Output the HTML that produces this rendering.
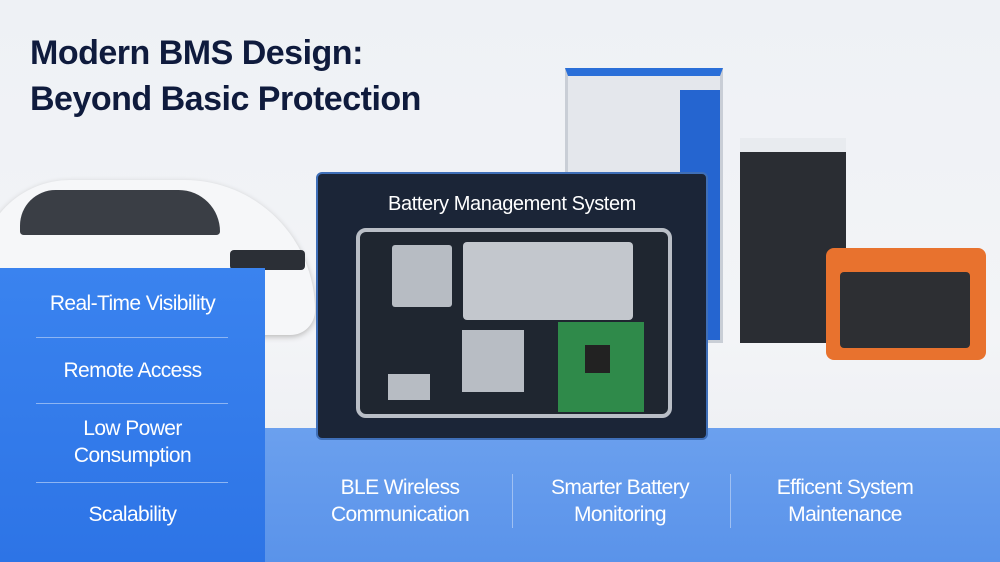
<!DOCTYPE html>
<html><head><style>
body{margin:0;width:1000px;height:562px;overflow:hidden;position:relative;font-family:"Liberation Sans",sans-serif;background:linear-gradient(#eef1f5,#f3f4f7 60%,#e9ecf0);}
div{position:absolute;box-sizing:border-box}
.t{color:#fff;text-align:center;font-size:21px;line-height:27px;letter-spacing:-0.6px}
</style></head><body>
<div style="left:30px;top:30px;font-size:34px;line-height:46px;font-weight:bold;color:#0f1b3d;letter-spacing:-0.5px">Modern BMS Design:<br>Beyond Basic Protection</div>
<!-- car -->
<div style="left:-20px;top:180px;width:335px;height:155px;background:#f6f7f9;border-radius:110px 160px 30px 30px;box-shadow:0 2px 6px #bbb"></div>
<div style="left:20px;top:190px;width:200px;height:45px;background:#3a3e45;border-radius:60px 70px 6px 6px"></div>
<div style="left:230px;top:250px;width:75px;height:20px;background:#2b2f36;border-radius:4px"></div>
<!-- charger -->
<div style="left:565px;top:68px;width:158px;height:275px;background:#e4e7ec;border:3px solid #c9ced6;border-top:8px solid #2a6fd8"></div>
<div style="left:680px;top:90px;width:40px;height:250px;background:#2565d0"></div>
<div style="left:740px;top:138px;width:106px;height:205px;background:#2a2d33;border-top:14px solid #e8ebef"></div>
<div style="left:826px;top:248px;width:160px;height:112px;background:#e8722e;border-radius:8px"></div>
<div style="left:840px;top:272px;width:130px;height:76px;background:#2d2f33;border-radius:4px"></div>
<!-- left panel -->
<div style="left:0;top:268px;width:265px;height:294px;background:linear-gradient(#3a83ef,#2d74e6)"></div>
<div class="t" style="left:0;top:290px;width:265px">Real-Time Visibility</div>
<div style="left:36px;top:337px;width:192px;height:1px;background:#8db5f3"></div>
<div class="t" style="left:0;top:357px;width:265px">Remote Access</div>
<div style="left:36px;top:403px;width:192px;height:1px;background:#8db5f3"></div>
<div class="t" style="left:0;top:415px;width:265px">Low Power<br>Consumption</div>
<div style="left:36px;top:482px;width:192px;height:1px;background:#8db5f3"></div>
<div class="t" style="left:0;top:501px;width:265px">Scalability</div>
<!-- bottom band -->
<div style="left:265px;top:428px;width:735px;height:134px;background:linear-gradient(#6ba0ee,#5a93ea)"></div>
<div class="t" style="left:305px;top:474px;width:190px">BLE Wireless<br>Communication</div>
<div style="left:512px;top:474px;width:1px;height:54px;background:#9fc0f3"></div>
<div class="t" style="left:525px;top:474px;width:190px">Smarter Battery<br>Monitoring</div>
<div style="left:730px;top:474px;width:1px;height:54px;background:#9fc0f3"></div>
<div class="t" style="left:750px;top:474px;width:190px">Efficent System<br>Maintenance</div>
<!-- BMS box -->
<div style="left:316px;top:172px;width:392px;height:268px;background:#1b2537;border:2px solid #3f6fb8;border-radius:6px"></div>
<div style="left:316px;top:193px;width:392px;text-align:center;color:#fff;font-size:20px;letter-spacing:-0.4px">Battery Management System</div>
<div style="left:356px;top:228px;width:316px;height:190px;background:#1f2630;border:4px solid #b9bec6;border-radius:10px"></div>
<div style="left:392px;top:245px;width:60px;height:62px;background:#b7bcc3;border-radius:3px"></div>
<div style="left:463px;top:242px;width:170px;height:78px;background:#c3c7cd;border-radius:4px"></div>
<div style="left:462px;top:330px;width:62px;height:62px;background:#b8bdc4"></div>
<div style="left:558px;top:322px;width:86px;height:90px;background:#2f8a4a"></div>
<div style="left:585px;top:345px;width:25px;height:28px;background:#222"></div>
<div style="left:388px;top:374px;width:42px;height:26px;background:#b7bcc3"></div>
</body></html>
